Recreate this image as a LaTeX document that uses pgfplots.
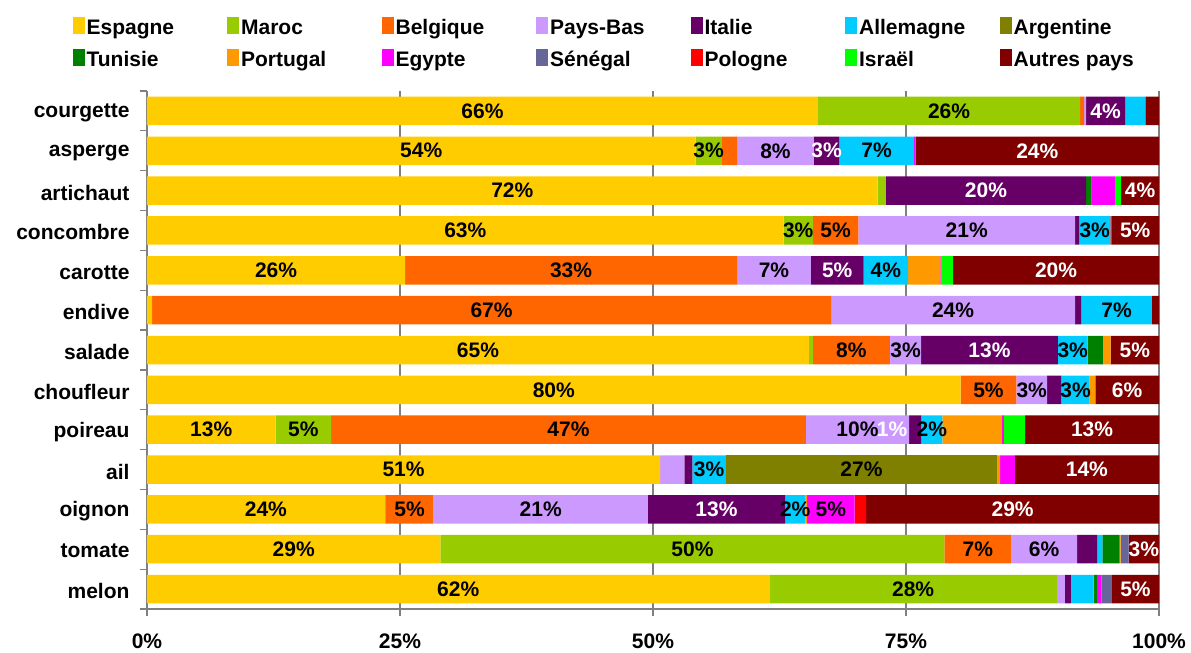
\documentclass[border=0pt]{standalone}
\usepackage{pgfplots}
\pgfplotsset{compat=1.18}
\usepackage{fontspec}
\setmainfont{Liberation Sans}
\definecolor{cEsp}{HTML}{FFCC00}
\definecolor{cMar}{HTML}{99CC00}
\definecolor{cBel}{HTML}{FF6600}
\definecolor{cPba}{HTML}{CC99FF}
\definecolor{cIta}{HTML}{660066}
\definecolor{cAll}{HTML}{00CCFF}
\definecolor{cArg}{HTML}{808000}
\definecolor{cTun}{HTML}{008000}
\definecolor{cPor}{HTML}{FF9900}
\definecolor{cEgy}{HTML}{FF00FF}
\definecolor{cSen}{HTML}{666699}
\definecolor{cPol}{HTML}{FF0000}
\definecolor{cIsr}{HTML}{00FF00}
\definecolor{cAut}{HTML}{800000}
\definecolor{axgray}{HTML}{808080}
\newcommand\lab[1]{\makebox[142.5bp][l]{\hspace{2bp}#1}}
% label pushed 23bp to the left (poireau, Italie)
\protected\def\lft#1{\makebox[0pt]{\hspace{-46bp}#1}}
\newcommand\bigfont{\fontsize{21bp}{25bp}\selectfont\bfseries}
\begin{document}
\begin{tikzpicture}[font=\bigfont]
\begin{axis}[
  scale only axis, width=1012bp, height=518bp,
  xbar stacked, bar width=28.5bp,
  xmin=0, xmax=100, ymin=-0.5, ymax=12.5, y dir=reverse,
  clip=false,
  axis x line*=bottom, axis y line*=left,
  axis line style={axgray, line width=1.3bp},
  xtick={0,25,50,75,100}, xticklabels={0\%,25\%,50\%,75\%,100\%},
  xmajorgrids, grid style={axgray, line width=1.3bp},
  ytick={0,...,12},
  yticklabels={courgette,asperge,artichaut,concombre,carotte,endive,salade,choufleur,poireau,ail,oignon,tomate,melon},
  minor ytick={-0.5,0.5,...,12.5},
  every major y tick/.append style={draw=none},
  tick align=outside, major tick length=7bp, minor tick length=7bp,
  tick style={axgray, line width=1.3bp},
  tick label style={font=\bigfont, text=black},
  yticklabel style={xshift=-7bp, yshift=-2bp},
  xticklabel style={yshift=-14bp},
  point meta=explicit symbolic,
  nodes near coords,
  every node near coord/.append style={font=\bigfont, anchor=center, inner sep=0pt},
  legend columns=7,
  legend cell align=left,
  legend image code/.code={\fill[#1] (0bp,-6.2bp) rectangle (12bp,10.8bp);},
  legend style={at={(-0.0735,1.143)}, anchor=north west, draw=none, fill=none,
    inner sep=0pt, outer sep=0pt, row sep=13bp, nodes={inner sep=0pt, font=\bigfont}},
]
% Espagne
\addplot[fill=cEsp, draw=none] coordinates {(66.3,0)[66\%] (54.2,1)[54\%] (72.2,2)[72\%] (62.9,3)[63\%] (25.5,4)[26\%] (0.5,5)[] (65.4,6)[65\%] (80.4,7)[80\%] (12.7,8)[13\%] (50.7,9)[51\%] (23.5,10)[24\%] (29.0,11)[29\%] (61.5,12)[62\%]};
\addlegendentry{\lab{Espagne}}
% Maroc
\addplot[fill=cMar, draw=none] coordinates {(25.9,0)[26\%] (2.6,1)[3\%] (0.8,2)[] (2.9,3)[3\%] (0,4)[] (0,5)[] (0.4,6)[] (0,7)[] (5.5,8)[5\%] (0,9)[] (0.1,10)[] (49.8,11)[50\%] (28.4,12)[28\%]};
\addlegendentry{\lab{Maroc}}
% Belgique
\addplot[fill=cBel, draw=none] coordinates {(0.4,0)[] (1.5,1)[] (0,2)[] (4.5,3)[5\%] (32.8,4)[33\%] (67.1,5)[67\%] (7.6,6)[8\%] (5.5,7)[5\%] (46.9,8)[47\%] (0,9)[] (4.7,10)[5\%] (6.6,11)[7\%] (0,12)[]};
\addlegendentry{\lab{Belgique}}
% Pays-Bas
\addplot[fill=cPba, draw=none] coordinates {(0.2,0)[] (7.6,1)[8\%] (0,2)[] (21.4,3)[21\%] (7.3,4)[7\%] (24.1,5)[24\%] (3.1,6)[3\%] (3.05,7)[3\%] (10.2,8)[10\%] (2.4,9)[] (21.2,10)[21\%] (6.5,11)[6\%] (0.8,12)[]};
\addlegendentry{\lab{Pays-Bas}}
% Italie
\addplot[fill=cIta, draw=none, every node near coord/.append style={text=white}] coordinates {(3.85,0)[4\%] (2.5,1)[3\%] (19.8,2)[20\%] (0.4,3)[] (5.2,4)[5\%] (0.6,5)[] (13.5,6)[13\%] (1.4,7)[] (1.2,8)[\lft{1\%}] (0.8,9)[] (13.55,10)[13\%] (2.0,11)[] (0.6,12)[]};
\addlegendentry{\lab{Italie}}
% Allemagne
\addplot[fill=cAll, draw=none] coordinates {(2.0,0)[] (7.4,1)[7\%] (0,2)[] (3.1,3)[3\%] (4.4,4)[4\%] (7.0,5)[7\%] (2.95,6)[3\%] (2.8,7)[3\%] (2.1,8)[2\%] (3.3,9)[3\%] (2.0,10)[2\%] (0.5,11)[] (2.25,12)[]};
\addlegendentry{\lab{Allemagne}}
% Argentine
\addplot[fill=cArg, draw=none] coordinates {(0,0)[] (0,1)[] (0,2)[] (0,3)[] (0,4)[] (0,5)[] (0,6)[] (0,7)[] (0,8)[] (26.8,9)[27\%] (0,10)[] (0,11)[] (0,12)[]};
\addlegendentry{\lab{Argentine}}
% Tunisie
\addplot[fill=cTun, draw=none] coordinates {(0,0)[] (0,1)[] (0.55,2)[] (0,3)[] (0,4)[] (0,5)[] (1.5,6)[] (0,7)[] (0,8)[] (0,9)[] (0,10)[] (1.7,11)[] (0.3,12)[]};
\addlegendentry{\lab{Tunisie}}
% Portugal
\addplot[fill=cPor, draw=none] coordinates {(0,0)[] (0,1)[] (0,2)[] (0,3)[] (3.2,4)[] (0,5)[] (0.76,6)[] (0.55,7)[] (5.9,8)[] (0.3,9)[] (0.17,10)[] (0.1,11)[] (0,12)[]};
\addlegendentry{\lab{Portugal}}
% Egypte
\addplot[fill=cEgy, draw=none] coordinates {(0,0)[] (0.15,1)[] (2.3,2)[] (0,3)[] (0.1,4)[] (0,5)[] (0,6)[] (0,7)[] (0.17,8)[] (1.45,9)[] (4.7,10)[5\%] (0,11)[] (0.45,12)[]};
\addlegendentry{\lab{Egypte}}
% Senegal
\addplot[fill=cSen, draw=none] coordinates {(0,0)[] (0,1)[] (0,2)[] (0,3)[] (0,4)[] (0,5)[] (0,6)[] (0,7)[] (0,8)[] (0,9)[] (0,10)[] (0.8,11)[] (1.05,12)[]};
\addlegendentry{\lab{Sénégal}}
% Pologne
\addplot[fill=cPol, draw=none] coordinates {(0,0)[] (0,1)[] (0,2)[] (0.1,3)[] (0,4)[] (0,5)[] (0,6)[] (0,7)[] (0,8)[] (0,9)[] (1.15,10)[] (0,11)[] (0,12)[]};
\addlegendentry{\lab{Pologne}}
% Israel
\addplot[fill=cIsr, draw=none] coordinates {(0,0)[] (0,1)[] (0.6,2)[] (0,3)[] (1.15,4)[] (0,5)[] (0,6)[] (0,7)[] (2.1,8)[] (0,9)[] (0,10)[] (0,11)[] (0,12)[]};
\addlegendentry{\lab{Israël}}
% Autres pays
\addplot[fill=cAut, draw=none, every node near coord/.append style={text=white}] coordinates {(1.35,0)[] (24.05,1)[24\%] (3.75,2)[4\%] (4.7,3)[5\%] (20.35,4)[20\%] (0.7,5)[] (4.79,6)[5\%] (6.3,7)[6\%] (13.23,8)[13\%] (14.25,9)[14\%] (28.93,10)[29\%] (3.0,11)[3\%] (4.65,12)[5\%]};
\addlegendentry{\lab{Autres pays}}
\end{axis}
\pgfresetboundingbox
\path[use as bounding box] ([shift={(-147bp,-44bp)}]current axis.south west) rectangle ([shift={(1044bp,609bp)}]current axis.south west);
\end{tikzpicture}
\end{document}
